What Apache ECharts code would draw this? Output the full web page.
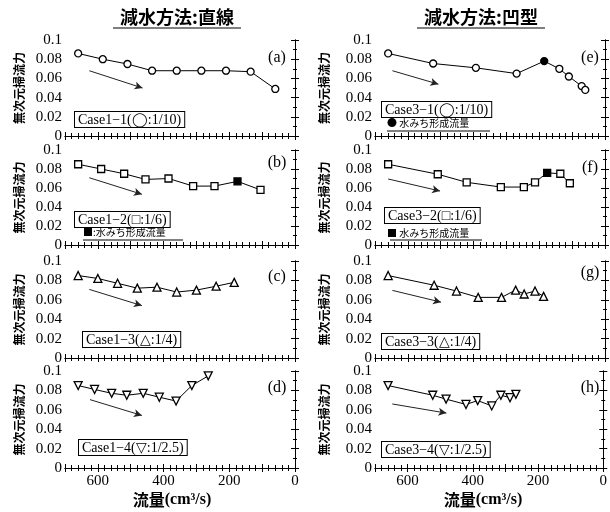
<!DOCTYPE html>
<html><head><meta charset="utf-8">
<script src="https://cdn.jsdelivr.net/npm/echarts@6/dist/echarts.min.js"></script>
<style>html,body{margin:0;padding:0;background:#fff}#c{width:610px;height:512px}</style>
</head><body><div id="c"></div>
<script>
// ---- data ----
const panelLetters = ['(a)','(b)','(c)','(d)','(e)','(f)','(g)','(h)'];
const caseLabels = ['Case1\u22121(\u25EF:1/10)','Case1\u22122(\u25A1:1/6)','Case1\u22123(\u25B3:1/4)','Case1\u22124(\u25BD:1/2.5)',
                    'Case3\u22121(\u25EF:1/10)','Case3\u22122(\u25A1:1/6)','Case3\u22123(\u25B3:1/4)','Case3\u22124(\u25BD:1/2.5)'];
const columnTitles = ['減水方法:直線','減水方法:凹型'];
const yName = '無次元掃流力';
const xName = '流量(cm³/s)';
const xTickLabels = [0, 200, 400, 600];
const yTickLabels = [0, 0.02, 0.04, 0.06, 0.08, 0.1];

const xA = [660, 585, 510, 435, 360, 285, 210, 135, 60];
const yA = [0.086, 0.080, 0.075, 0.068, 0.068, 0.068, 0.068, 0.067, 0.049];
const xB = [660, 590, 520, 455, 385, 310, 245, 175, 105];
const yB = [0.085, 0.080, 0.075, 0.069, 0.070, 0.062, 0.062, 0.067, 0.058];
const xC = [660, 600, 540, 480, 420, 360, 300, 240, 185];
const yC = [0.085, 0.082, 0.077, 0.072, 0.073, 0.068, 0.070, 0.074, 0.078];
const xD = [660, 610, 558, 512, 462, 413, 362, 314, 264];
const yD = [0.085, 0.081, 0.077, 0.075, 0.077, 0.073, 0.069, 0.085, 0.095];
const xE = [660, 523, 393, 269, 185, 139, 110, 71, 60];
const yE = [0.086, 0.0755, 0.071, 0.065, 0.078, 0.070, 0.062, 0.052, 0.048];
const xF = [660, 509, 421, 317, 247, 213, 176, 136, 107];
const yF = [0.085, 0.0745, 0.066, 0.061, 0.061, 0.066, 0.076, 0.075, 0.065];
const xG = [660, 520, 452, 386, 315, 272, 246, 213, 187];
const yG = [0.085, 0.075, 0.069, 0.0625, 0.0625, 0.070, 0.066, 0.069, 0.0635];
const xH = [660, 523, 482, 421, 385, 342, 314, 286, 268];
const yH = [0.085, 0.075, 0.071, 0.0655, 0.0695, 0.064, 0.075, 0.0725, 0.076];

// index of the filled (水みち形成流量) point per panel, -1 if none
const filledPoint = [-1, 7, -1, -1, 4, 6, -1, -1];
// trend arrows [start, end] in data units
const arrowX = [[626, 464], [626, 466], [626, 466], [624, 466], [647, 507], [660, 502], [647, 499], [647, 481]];
const arrowY = [[0.068, 0.050], [0.0708, 0.0534], [0.0707, 0.054], [0.0705, 0.0542], [0.068, 0.054], [0.0695, 0.0568], [0.0697, 0.0576], [0.066, 0.0566]];

const xs = [xA, xB, xC, xD, xE, xF, xG, xH];
const ys = [yA, yB, yC, yD, yE, yF, yG, yH];
const symbols = ['circle', 'rect', 'triangle', 'triangle', 'circle', 'rect', 'triangle', 'triangle'];
const symbolRot = [0, 0, 0, 180, 0, 0, 0, 180];

// ---- layout ----
const colLeft = [65, 375];
const plotW = 230;
const rowTop = [40, 150, 261, 371];
const rowH = [96, 95, 97, 97];
const nameGapY = [40, 45];

const SERIF = '"Liberation Serif","Times New Roman",serif';
const CJK = '"Noto Sans CJK JP","Noto Sans CJK SC",sans-serif';

const grids = [], xAxes = [], yAxes = [], series = [];
for (let i = 0; i < 8; i++) {
  const col = Math.floor(i / 4), row = i % 4;
  grids.push({left: colLeft[col], top: rowTop[row], width: plotW, height: rowH[row]});
  const bottom = row === 3;
  const xBase = {
    gridIndex: i, type: 'value', min: 0, max: 700, interval: 100, inverse: true,
    axisLine: {show: true, lineStyle: {color: '#000', width: 1}},
    axisTick: {show: true, inside: true, length: 4, lineStyle: {color: '#000'}},
    minorTick: {show: true, splitNumber: 5, length: 3, lineStyle: {color: '#000'}},
    splitLine: {show: false}
  };
  xAxes.push(Object.assign({}, xBase, {
    position: 'bottom',
    axisLabel: {show: bottom, color: '#000', fontFamily: SERIF, fontSize: 15, margin: 6,
      formatter: v => xTickLabels.indexOf(v) >= 0 ? String(v) : ''}
  }));
  xAxes.push(Object.assign({}, xBase, {position: 'top', axisLabel: {show: false}}));
  const yBase = {
    gridIndex: i, type: 'value', min: 0, max: 0.1, interval: 0.02,
    axisLine: {show: true, lineStyle: {color: '#000', width: 1}},
    axisTick: {show: true, inside: true, length: 4, lineStyle: {color: '#000'}},
    minorTick: {show: true, splitNumber: 2, length: 2, lineStyle: {color: '#000'}},
    splitLine: {show: false}
  };
  yAxes.push(Object.assign({}, yBase, {
    position: 'left',
    name: yName, nameLocation: 'middle', nameRotate: 90, nameGap: nameGapY[col],
    nameTextStyle: {fontFamily: CJK, fontWeight: 'bold', fontSize: 12, color: '#000'},
    axisLabel: {color: '#000', fontFamily: SERIF, fontSize: 15, margin: 3,
      formatter: v => { const k = yTickLabels.findIndex(t => Math.abs(t - v) < 1e-9); return k >= 0 ? String(yTickLabels[k]) : ''; }}
  }));
  yAxes.push(Object.assign({}, yBase, {position: 'right', axisLabel: {show: false}}));

  const data = xs[i].map((x, j) => {
    const item = {value: [x, ys[i][j]]};
    if (j === filledPoint[i]) item.itemStyle = {color: '#000'};
    return item;
  });
  series.push({
    type: 'line', xAxisIndex: 2 * i, yAxisIndex: 2 * i, data: data,
    symbol: symbols[i], symbolRotate: symbolRot[i],
    symbolSize: symbols[i] === 'triangle' ? 8 : 7,
    showAllSymbol: true, animation: false,
    lineStyle: {color: '#000', width: 1},
    itemStyle: {color: '#fff', borderColor: '#000', borderWidth: 1.3},
    emphasis: {disabled: true},
    markLine: {
      silent: true, animation: false, symbol: ['none', 'arrow'], symbolSize: [6, 8],
      label: {show: false},
      lineStyle: {color: '#222', width: 1, type: 'solid'},
      data: [[{coord: [arrowX[i][0], arrowY[i][0]]}, {coord: [arrowX[i][1], arrowY[i][1]]}]]
    }
  });
}

// ---- annotations ----
const letterPos = [[277, 58], [277, 163], [277, 277], [277, 388], [590, 58], [590, 168], [590, 273], [590, 388]];
const casePos = [[75, 112], [75, 212], [83, 332], [79, 440], [382, 102], [385, 208], [382, 334], [382, 442]];
const graphics = [];
for (let i = 0; i < 8; i++) {
  graphics.push({type: 'text', x: letterPos[i][0], y: letterPos[i][1],
    style: {text: panelLetters[i], font: '16px ' + SERIF, fill: '#000', align: 'center', verticalAlign: 'middle'}});
  graphics.push({type: 'text', x: casePos[i][0], y: casePos[i][1],
    style: {text: caseLabels[i], font: '14px ' + SERIF, fill: '#000', backgroundColor: '#fff',
      borderColor: '#000', borderWidth: 1, padding: [1, 3, 0, 3]}});
}
const subLegend = [['\u25A0:水みち形成流量', 83, 232, 83, 183, 240], ['\u25CF 水みち形成流量', 387, 123, 387, 490, 131], ['\u25A0 水みち形成流量', 387, 233, 390, 482, 240]];
subLegend.forEach(s => {
  graphics.push({type: 'text', x: s[1], y: s[2], style: {text: s[0], font: '10px ' + CJK, fill: '#000', verticalAlign: 'middle'}});
  graphics.push({type: 'line', shape: {x1: s[3], y1: s[5], x2: s[4], y2: s[5]}, style: {stroke: '#000', lineWidth: 1}});
});
const titleX = [177, 481];
titleX.forEach((tx, k) => {
  graphics.push({type: 'text', x: tx, y: 17, style: {text: columnTitles[k], font: 'bold 18px ' + CJK, fill: '#000', align: 'center', verticalAlign: 'middle'}});
  graphics.push({type: 'line', shape: {x1: tx - 64, y1: 28, x2: tx + 64, y2: 28}, style: {stroke: '#000', lineWidth: 1.2}});
  graphics.push({type: 'text', x: [172, 483][k], y: 500, style: {
    text: '{a|流量}{b|(cm³/s)}', align: 'center', verticalAlign: 'middle',
    rich: {a: {fontFamily: CJK, fontWeight: 'bold', fontSize: 16, fill: '#000'}, b: {fontFamily: SERIF, fontWeight: 'bold', fontSize: 16, fill: '#000'}}}});
});

const chart = echarts.init(document.getElementById('c'), null, {renderer: 'canvas'});
chart.setOption({
  animation: false, backgroundColor: '#fff',
  grid: grids, xAxis: xAxes, yAxis: yAxes, series: series, graphic: graphics
});
</script></body></html>
